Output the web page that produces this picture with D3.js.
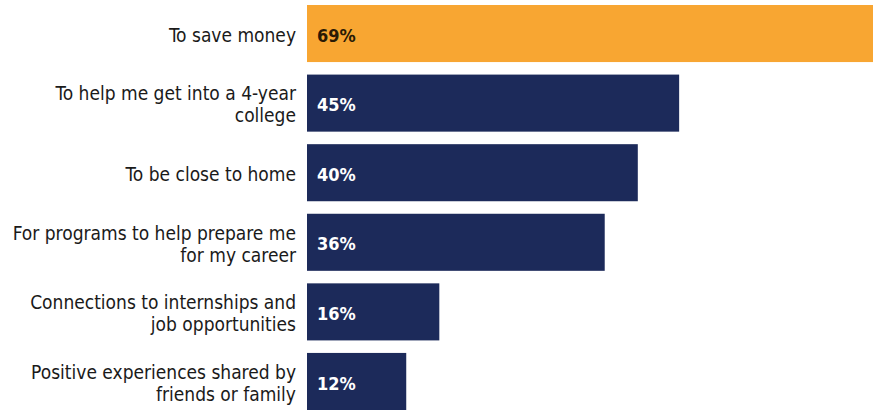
<!DOCTYPE html>
<html>
<head>
<meta charset="utf-8">
<script src="https://cdn.jsdelivr.net/npm/d3@7"></script>
<style>
  html, body { margin: 0; padding: 0; background: #fff; }
  svg { display: block; }
</style>
</head>
<body>
<svg id="chart" width="873" height="410"></svg>
<script>
// Reasons for choosing a community college (share of respondents)
const categories = [
  "To save money",
  "To help me get into a 4-year\ncollege",
  "To be close to home",
  "For programs to help prepare me\nfor my career",
  "Connections to internships and\njob opportunities",
  "Positive experiences shared by\nfriends or family"
];
const values = [69, 45, 40, 36, 16, 12];
const highlight = [true, false, false, false, false, false];

const W = 873, H = 410;
const svg = d3.select("#chart");

const x = d3.scaleLinear().domain([0, 100]).range([307, 307 + 827]);
const y = d3.scaleBand()
  .domain(categories)
  .range([5, 410])
  .paddingInner(0.18)
  .paddingOuter(0);

const ORANGE = "#F8A632";
const NAVY = "#1C2A5A";
const FONT = "'DejaVu Sans Condensed', 'DejaVu Sans', sans-serif";

const rows = svg.selectAll("g.row")
  .data(categories.map((c, i) => ({ c, v: values[i], hi: highlight[i] })))
  .join("g")
  .attr("class", "row");

rows.append("rect")
  .attr("x", x(0))
  .attr("y", d => y(d.c))
  .attr("width", d => x(d.v) - x(0))
  .attr("height", y.bandwidth())
  .attr("fill", d => d.hi ? ORANGE : NAVY);

rows.append("text")
  .attr("x", x(0) + 10)
  .attr("y", d => y(d.c) + y.bandwidth() / 2)
  .attr("dy", "0.45em")
  .attr("font-family", FONT)
  .attr("font-weight", 700)
  .attr("font-size", 18)
  .attr("fill", d => d.hi ? "#2a1a05" : "#ffffff")
  .text(d => d.v + "%");

const lineH = 22;
rows.append("text")
  .attr("font-family", FONT)
  .attr("font-size", 19)
  .attr("fill", "#1a1a1a")
  .attr("text-anchor", "end")
  .each(function(d) {
    const lines = d.c.split("\n");
    const cy = y(d.c) + y.bandwidth() / 2;
    const t = d3.select(this);
    lines.forEach((ln, k) => {
      t.append("tspan")
        .attr("x", 296)
        .attr("y", cy + (k - (lines.length - 1) / 2) * lineH)
        .attr("dy", "0.44em")
        .text(ln);
    });
  });
</script>
</body>
</html>
